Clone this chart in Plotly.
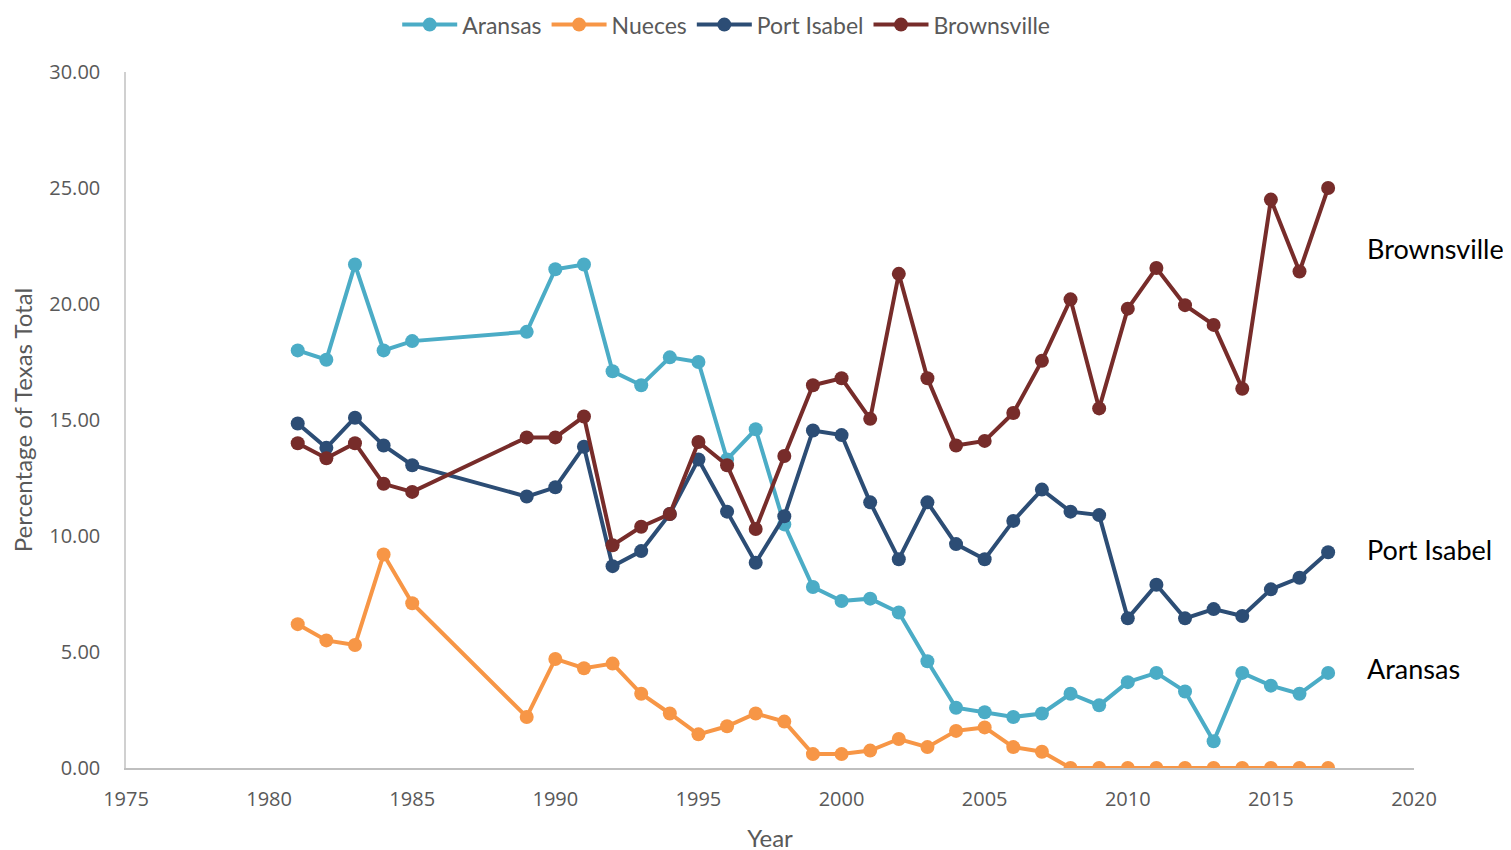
import plotly.graph_objects as go

years = [1981, 1982, 1983, 1984, 1985, 1989, 1990, 1991, 1992, 1993, 1994, 1995, 1996, 1997,
         1998, 1999, 2000, 2001, 2002, 2003, 2004, 2005, 2006, 2007, 2008, 2009, 2010, 2011,
         2012, 2013, 2014, 2015, 2016, 2017]

aransas = [18.0, 17.6, 21.7, 18.0, 18.4, 18.8, 21.5, 21.7, 17.1, 16.5, 17.7, 17.5, 13.3, 14.6,
           10.5, 7.8, 7.2, 7.3, 6.7, 4.6, 2.6, 2.4, 2.2, 2.35, 3.2, 2.7, 3.7, 4.1,
           3.3, 1.15, 4.1, 3.55, 3.2, 4.1]
nueces = [6.2, 5.5, 5.3, 9.2, 7.1, 2.2, 4.7, 4.3, 4.5, 3.2, 2.35, 1.45, 1.8, 2.35,
          2.0, 0.6, 0.6, 0.75, 1.25, 0.9, 1.6, 1.75, 0.9, 0.7, 0, 0, 0, 0,
          0, 0, 0, 0, 0, 0]
port_isabel = [14.85, 13.8, 15.1, 13.9, 13.05, 11.7, 12.1, 13.85, 8.7, 9.35, 10.95, 13.3, 11.05, 8.85,
               10.85, 14.55, 14.35, 11.45, 9.0, 11.45, 9.65, 9.0, 10.65, 12.0, 11.05, 10.9, 6.45, 7.9,
               6.45, 6.85, 6.55, 7.7, 8.2, 9.3]
brownsville = [14.0, 13.35, 14.0, 12.25, 11.9, 14.25, 14.25, 15.15, 9.6, 10.4, 10.95, 14.05, 13.05, 10.3,
               13.45, 16.5, 16.8, 15.05, 21.3, 16.8, 13.9, 14.1, 15.3, 17.55, 20.2, 15.5, 19.8, 21.55,
               19.95, 19.1, 16.35, 24.5, 21.4, 25.0]

series = [("Aransas", aransas, "#4BACC6"), ("Nueces", nueces, "#F79646"),
          ("Port Isabel", port_isabel, "#2C4D75"), ("Brownsville", brownsville, "#772C2A")]

fig = go.Figure()
for name, vals, color in series:
    fig.add_trace(go.Scatter(x=years, y=vals, mode="lines+markers", name=name,
                             line=dict(color=color, width=4), marker=dict(color=color, size=14)))

# end-of-line labels
for name, yv in [("Brownsville", 22.4), ("Port Isabel", 9.4), ("Aransas", 4.3)]:
    fig.add_annotation(x=2018.3, y=yv, xref="x", yref="y", text=name, showarrow=False,
                       xanchor="left", font=dict(size=27, color="black", family="Lato"))

axis_font = dict(size=20, color="#595959", family="Open Sans")
fig.update_layout(
    width=1511, height=850, plot_bgcolor="white", paper_bgcolor="white",
    margin=dict(l=118, r=105, t=64, b=90, autoexpand=False),
    font=dict(family="Lato", color="#595959"),
    legend=dict(orientation="h", x=0.466, y=1.068, xanchor="center", yanchor="middle",
                font=dict(size=23, color="#595959"), itemwidth=55, tracegroupgap=0),
    xaxis=dict(range=[1975, 2020], dtick=5, tick0=1975, showgrid=False, showline=True,
               linecolor="#BFBFBF", linewidth=2, zeroline=False, tickfont=axis_font, ticks="",
               ticklabelstandoff=12, automargin=False,
               title=dict(text="Year", font=dict(size=24, color="#595959"), standoff=19)),
    yaxis=dict(range=[0, 30], dtick=5, tickformat=".2f", showgrid=False, showline=True,
               linecolor="#D0D0D0", linewidth=1.5, zeroline=False, tickfont=axis_font, ticks="",
               ticklabelstandoff=20, automargin=False,
               title=dict(text="Percentage of Texas Total", font=dict(size=24, color="#595959"), standoff=14)),
)
fig.write_html("out.html")
